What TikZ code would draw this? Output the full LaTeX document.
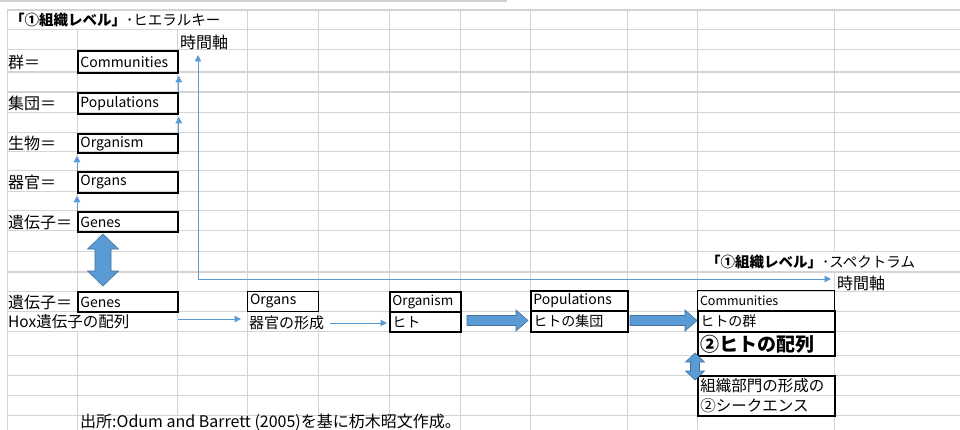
\documentclass[tikz,border=0pt]{standalone}
\usepackage{fontspec}
\setmainfont{Noto Sans CJK JP}
\usetikzlibrary{arrows.meta,calc}
\definecolor{gridc}{HTML}{D4D4D4}
\definecolor{barc}{HTML}{D0D0D0}
\definecolor{arrc}{HTML}{5B9BD5}
\definecolor{arrd}{HTML}{41719C}
\newcommand\rarrowpath[3]{\filldraw[bigarrow] (#1,#3-5) -- (#2-12,#3-5) -- (#2-12,#3-10.5) -- (#2,#3) -- (#2-12,#3+10.5) -- (#2-12,#3+5) -- (#1,#3+5) -- cycle;}
\newcommand\vdarrowpath[6]{\filldraw[bigarrow] (#1,#2) -- (#1+#4,#2+#6) -- (#1+#5,#2+#6) -- (#1+#5,#3-#6) -- (#1+#4,#3-#6) -- (#1,#3) -- (#1-#4,#3-#6) -- (#1-#5,#3-#6) -- (#1-#5,#2+#6) -- (#1-#4,#2+#6) -- cycle;}
\begin{document}
\begin{tikzpicture}[x=1pt,y=-1pt,
  gridline/.style={draw=gridc, line width=1pt},
  gridthick/.style={draw=gridc, line width=1.6pt},
  boxthick/.style={draw=black, line width=1.8pt, anchor=north west, inner xsep=2.5pt, inner ysep=0pt, align=left, font=\fontsize{14}{15}\selectfont},
  boxthin/.style={boxthick, line width=1pt},
  lbl/.style={anchor=west, inner sep=0pt, font=\fontsize{16}{18}\selectfont},
  tarrow/.style={draw=arrc, line width=0.9pt, -{Triangle[length=6.5pt,width=6.5pt]}},
  bigarrow/.style={fill=arrc, draw=arrd, line width=0.6pt}]
\useasboundingbox (0,0) rectangle (960,430);
\clip (0,0) rectangle (960,430);
\fill[white] (0,0) rectangle (960,430);
% top bar
\fill[barc] (0,0) rectangle (507,2.5);
% horizontal grid lines
\foreach \yy in {30,50,113,133,152,171,192,211,231,251,291,311,331,355,375,395,415}
  \draw[gridline] (7,\yy) -- (960,\yy);
\foreach \yy in {10,72,92,272}
  \draw[gridthick] (7,\yy) -- (960,\yy);
% vertical grid lines
\draw[gridline] (7,10) -- (7,430);
\draw[gridline] (77,30) -- (77,311);
\draw[gridline] (77,331) -- (77,430);
\draw[gridline] (177,30) -- (177,415);
\foreach \xx in {247,318,389}
  \draw[gridline] (\xx,10) -- (\xx,415);
\foreach \xx in {460,530,627,697}
  \draw[gridline] (\xx,10) -- (\xx,430);
\draw[gridline] (834,10) -- (834,251);
\draw[gridline] (834,272) -- (834,430);

% titles
\node[lbl, font=\fontsize{14.5}{16}\selectfont] (t1) at (10,20) {\textbf{「①組織レベル」}･ヒエラルキー};
\node[lbl, font=\fontsize{14.5}{16}\selectfont] (t2) at (706,262) {\textbf{「①組織レベル」}･スペクトラム};
\node[lbl] (ax1) at (180,42) {時間軸};
\node[lbl] (ax2) at (837,283) {時間軸};

% left column labels
\node[lbl] (l1) at (8,62) {群＝};
\node[lbl] (l2) at (8,103) {集団＝};
\node[lbl] (l3) at (8,143) {生物＝};
\node[lbl] (l4) at (8,182) {器官＝};
\node[lbl] (l5) at (8,222) {遺伝子＝};

% left column boxes
\node[boxthick, text width=95pt, minimum height=22pt] (comm) at (77,50) {Communities};
\node[boxthick, text width=95pt, minimum height=21pt] (pop) at (77,92) {Populations};
\node[boxthick, text width=95pt, minimum height=19pt] (org) at (77,133) {Organism};
\node[boxthick, text width=95pt, minimum height=21pt] (organs) at (77,171) {Organs};
\node[boxthick, text width=95pt, minimum height=20pt] (genes) at (77,211) {Genes};

\draw[tarrow, shorten >=2pt] (pop.north east) -- (comm.south east);
\draw[tarrow, shorten >=2pt] (org.north east) -- (pop.south east);
\draw[tarrow, shorten >=2pt] (organs.north west) -- (org.south west);
\draw[tarrow, shorten >=2pt] (genes.north west) -- (organs.south west);

% time axes
\coordinate (vtip) at (198,55);
\coordinate (corner) at (198,279);
\coordinate (htip) at (831,279);
\draw[draw=arrc, line width=0.9pt, {Triangle[length=6.5pt,width=6.5pt]}-{Triangle[length=6.5pt,width=6.5pt]}] (vtip) -- (corner) -- (htip);

% bottom row
\node[lbl] (l6) at (8,302) {遺伝子＝};
\node[lbl, font=\fontsize{15.5}{17}\selectfont] (hox) at (8,322) {Hox遺伝子の配列};
\node[boxthick, text width=95pt, minimum height=20pt] (genes2) at (77,291) {Genes};
\node[boxthin, text width=66pt, minimum height=20pt] (organs2) at (247,291) {Organs};
\node[lbl, font=\fontsize{15}{17}\selectfont] (keisei) at (249,323) {器官の形成};
\node[boxthick, text width=66pt, minimum height=20pt, font=\fontsize{13.5}{15}\selectfont] (organism2) at (389,291) {Organism};
\node[boxthick, text width=66pt, minimum height=20pt] (hito) at (389,311) {ヒト};
\node[boxthick, text width=92pt, minimum height=20pt] (pops2) at (530,290) {Populations};
\node[boxthick, text width=92pt, minimum height=21pt] (shudan) at (530,310) {ヒトの集団};
\node[boxthin, text width=132pt, minimum height=20pt, font=\fontsize{12.5}{14}\selectfont] (comm2) at (697,290) {Communities};
\node[boxthick, text width=132pt, minimum height=21pt] (mure) at (697,310) {ヒトの群};
\node[boxthick, text width=132pt, minimum height=24pt, font=\fontsize{19}{20}\selectfont\bfseries] (hairetsu) at (697,331) {②ヒトの配列};
\node[boxthick, text width=132pt, minimum height=40pt, font=\fontsize{15.5}{20}\selectfont] (seq) at (697,375) {組織部門の形成の\\②シークエンス};

\coordinate (hoxend) at (178,319);
\draw[tarrow, shorten >=8pt] (hoxend) -- (hoxend -| keisei.west);
\draw[tarrow, shorten <=6pt, shorten >=2pt] (keisei.east) -- (keisei.east -| hito.west);

% big arrows
\vdarrowpath{103}{234}{286}{15.5}{8}{15}
\rarrowpath{467}{528}{320.5}
\rarrowpath{630}{697}{320.5}
\vdarrowpath{695}{353}{380}{9.5}{4.5}{9}

% source
\node[lbl, font=\fontsize{16}{18}\selectfont] (src) at (80,422.5) {出所:Odum and Barrett (2005)を基に杤木昭文作成。};
\end{tikzpicture}
\end{document}
